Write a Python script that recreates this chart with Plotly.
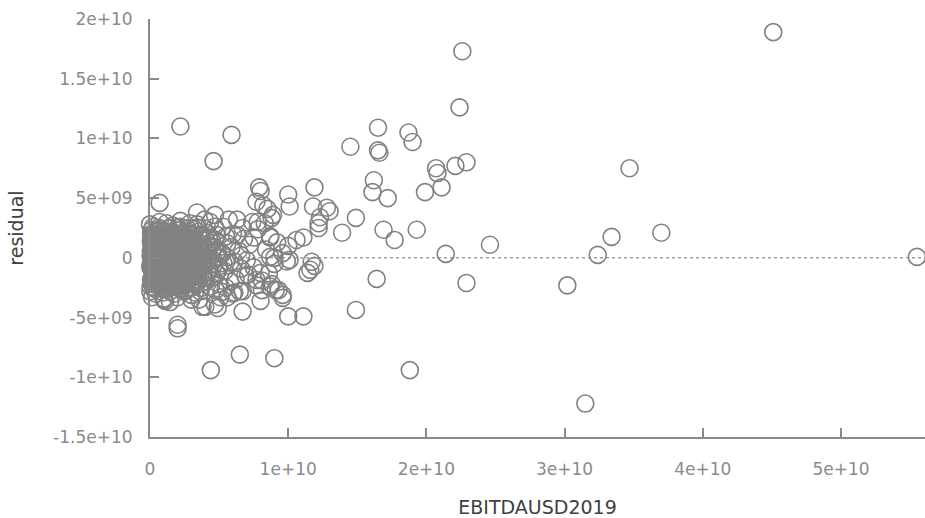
import plotly.graph_objects as go

# values in units of 1e9
core_x = [0.05,0.1,0.15,0.2,0.08,0.3,0.25,0.4,0.12,0.35,0.5,0.45,0.02,0.22,0.55,0.6,0.18,0.38,0.28,0.48,0.06,0.33,0.58,0.15,0.42,
          0.7,0.8,0.9,1.0,1.1,1.2,1.3,1.4,0.75,0.95,1.05,1.15,1.25,1.35,1.45,0.65,0.85,1.0,1.2,1.4,0.9,1.1,1.3,0.7,1.0,1.2,1.45,0.8,1.5,0.6,
          1.6,1.7,1.8,1.9,2.0,2.1,2.2,2.3,2.4,2.5,1.65,1.75,1.85,1.95,2.05,2.15,2.25,2.35,2.45,1.55,2.0,2.2,1.8,2.4,1.6,2.1,2.3,1.9,2.5,1.7,
          2.6,2.7,2.8,2.9,3.0,3.1,3.2,3.3,3.4,3.5,2.65,2.75,2.85,2.95,3.05,3.15,3.25,3.35,3.45,2.55,3.0,3.2,2.8,3.4,2.6,3.1,2.9,
          3.6,3.7,3.8,3.9,4.0,4.1,4.2,4.3,4.4,4.5,4.6,4.7,4.8,4.9,5.0,3.65,3.85,4.05,4.25,4.45,4.65,4.85,3.75,4.15,4.55,3.95,4.35,4.75,3.55,4.95,
          5.2,5.4,5.6,5.8,6.0,6.2,6.4,6.6,6.8,7.0,5.3,5.5,5.7,5.9,6.1,6.3,6.5,6.7,6.9,5.1,5.5,6.0,6.6,5.8,
          7.2,7.5,7.8,8.1,8.4,8.7,9.0,9.3,9.6,9.9,7.4,7.7,8.0,8.3,8.6,8.9,9.2,7.1,8.8,10.0,
          0.3,0.6,0.9,1.2,1.5,1.8,2.1,2.4,2.7,3.0,0.2,0.5,0.8,1.1,1.4,1.7,2.0,2.3,2.6,2.9,0.4,0.7,1.0,1.3,1.6,1.9,2.2,2.5,2.8,3.3,
          0.1,0.45,0.75,1.05,1.35,1.65,1.95,2.25,2.55,2.85,3.15,3.5,3.8,4.1,0.25,0.55,0.85,1.15,1.45,1.75,2.05,2.35,2.65,2.95,3.25,3.6,3.9,4.2]
core_y = [0.2,-0.5,1.1,-1.3,2.0,-2.2,0.6,-0.1,-1.8,1.6,-0.8,0.3,-2.8,2.6,-1.5,1.0,-0.2,-2.6,0.9,2.2,1.4,-1.0,0.1,-3.3,-3.0,
          -0.4,0.8,-1.6,1.9,-0.9,0.2,-2.4,1.3,2.4,-2.9,0.5,-0.1,2.1,-1.2,0.7,-2.0,1.6,-0.6,-1.9,-0.3,0.0,1.1,0.4,3.0,-3.5,2.9,-2.8,-1.1,1.8,0.5,
          -0.7,1.0,-1.8,0.3,2.3,-0.2,-2.6,1.5,-1.0,0.6,2.7,-3.0,1.9,-0.9,0.9,-1.5,0.0,2.0,-2.2,-0.1,-3.3,3.1,0.6,1.1,1.5,-2.0,-0.5,-2.4,-1.6,-1.3,
          0.2,-1.2,1.7,-0.4,0.9,-2.1,2.4,-0.8,0.4,-1.5,-2.7,2.2,-1.8,1.3,-0.1,1.9,-2.9,1.0,-0.3,1.0,-3.1,0.1,-0.2,2.8,-1.9,-1.1,2.9,
          0.7,-0.6,1.5,-1.7,0.2,2.1,-1.0,0.9,-2.4,1.4,-0.2,2.6,-1.3,0.5,-0.7,-2.8,2.5,-2.0,1.7,-0.5,0.9,1.9,0.0,-0.1,-1.6,3.2,3.0,-2.7,-3.5,-2.2,
          0.3,-1.1,1.2,-0.4,2.0,-1.8,0.6,-0.9,1.6,-0.2,2.6,-2.5,3.2,0.9,-0.3,1.9,-2.8,2.5,-1.5,-3.3,1.8,-3.0,0.2,-2.0,
          1.1,-0.8,2.4,-1.9,0.7,1.8,-0.5,-2.7,0.4,-0.3,3.0,-2.3,-3.6,2.9,-1.3,3.6,1.3,-1.4,-2.2,1.0,
          0.8,-1.4,1.7,-0.3,0.5,-2.3,1.2,-0.6,2.0,-1.7,-0.9,1.5,-2.1,0.3,2.5,-0.4,1.3,-1.2,0.7,-2.5,-1.9,0.1,2.2,-0.7,0.4,-1.0,2.6,-2.8,1.1,0.0,
          1.7,-1.1,0.6,-2.6,1.5,-0.5,2.5,-1.4,0.1,-0.8,1.2,-1.9,0.8,-0.4,-0.6,2.3,-1.5,1.4,-2.2,0.3,-2.4,0.9,-1.0,2.0,-1.2,1.8,-0.3,0.5]

dense_x = [0.22,0.93,1.58,2.31,3.04,3.68,0.48,1.17,1.92,2.63,3.27,4.02,0.12,0.33,1.04,1.71,2.38,3.12,3.79,4.41,
           0.17,0.84,1.52,2.19,2.93,3.61,4.28,4.97,0.41,1.13,1.83,2.47,3.22,3.88,4.63,5.31,0.07,0.72,1.41,2.12,
           2.79,3.48,4.23,4.88,5.58,0.36,1.02,1.69,2.43,3.09,3.83,4.49,5.18,0.11,0.79,1.53,2.21,2.91,3.63,4.32,
           0.46,1.21,1.88,2.62,3.31,4.04,4.71,0.23,0.91,1.63,2.28,3.02,3.72,0.62,1.32,2.03,2.69,3.41,0.57,1.26,
           1.97,2.67,3.36,0.63,1.36,2.04,2.76,3.44,4.13,0.74,1.44,2.16,2.83,3.57,4.27,0.66,1.33,2.07,2.77,3.46,
           4.16,0.77,1.47,2.14,2.86,3.53,0.03,0.13,0.27,0.09,0.19,0.04,0.31,0.14,0.26,0.37,0.52,0.68,0.88,1.08]
dense_y = [-2.48,-2.55,-2.42,-2.58,-2.46,-2.52,-2.03,-1.96,-2.07,-1.94,-2.05,-1.98,-2.1,-1.52,-1.46,-1.55,-1.48,-1.53,-1.44,-1.51,
           -1.02,-0.97,-1.05,-0.96,-1.03,-0.98,-1.04,-0.95,-0.52,-0.47,-0.55,-0.46,-0.53,-0.48,-0.54,-0.45,0.03,-0.04,0.05,-0.02,
           0.04,-0.05,0.02,-0.03,0.05,0.52,0.46,0.55,0.47,0.53,0.48,0.54,0.45,1.03,0.96,1.05,0.97,1.02,0.95,1.04,
           1.52,1.46,1.55,1.47,1.53,1.45,1.54,2.03,1.96,2.05,1.97,2.02,1.95,2.52,2.46,2.55,2.47,2.53,-2.27,-2.22,
           -2.28,-2.21,-2.26,-1.27,-1.22,-1.28,-1.23,-1.26,-1.21,-0.27,-0.22,-0.28,-0.23,-0.26,-0.21,0.77,0.72,0.78,0.73,0.76,
           0.71,1.77,1.72,1.78,1.73,1.76,-0.8,1.3,-1.7,2.3,0.3,-2.4,-1.1,0.9,1.8,-0.6,-0.3,0.2,-0.1,0.4]

solid_x = [0.08,0.29,0.51,0.73,0.96,1.18,1.39,1.62,1.84,2.06,2.27,2.49,2.71,2.94,3.16,3.38,
           0.19,0.41,0.62,0.85,1.07,1.28,1.51,1.73,1.95,2.17,2.38,2.61,2.82,3.05,3.27,
           0.04,0.26,0.47,0.69,0.92,1.14,1.35,1.57,1.79,2.02,2.24,2.45,2.67,2.89,3.12,3.33,
           0.15,0.37,0.58,0.81,1.03,1.24,1.46,1.68,1.91,2.13,2.34,2.56,2.78,3.01,3.22,
           0.06,0.28,0.49,0.71,0.94,1.16,1.37,1.59,1.81,2.04,2.26,2.47,2.69,2.91,3.14,
           0.17,0.39,0.6,0.83,1.05,1.26,1.48,1.7,1.93,2.15,2.36,2.58,2.8,3.03,
           0.1,0.32,0.53,0.76,0.98,1.19,1.41,1.64,1.86,2.08,2.29,2.52,2.74]
solid_y = [-1.82,-1.76,-1.85,-1.78,-1.81,-1.74,-1.86,-1.79,-1.83,-1.75,-1.84,-1.77,-1.8,-1.73,-1.87,-1.79,
           -1.21,-1.16,-1.24,-1.18,-1.22,-1.15,-1.25,-1.19,-1.23,-1.14,-1.2,-1.17,-1.26,-1.13,-1.21,
           -0.62,-0.57,-0.65,-0.59,-0.63,-0.56,-0.66,-0.6,-0.64,-0.55,-0.61,-0.58,-0.67,-0.54,-0.62,-0.59,
           -0.02,0.04,-0.05,0.01,-0.03,0.06,-0.06,0.02,-0.04,0.05,-0.01,0.03,-0.07,0.07,-0.02,
           0.58,0.63,0.55,0.61,0.57,0.64,0.54,0.6,0.56,0.65,0.59,0.62,0.53,0.66,0.58,
           1.18,1.23,1.15,1.21,1.17,1.24,1.14,1.2,1.16,1.25,1.19,1.22,1.13,1.26,
           1.78,1.83,1.75,1.81,1.77,1.84,1.74,1.8,1.76,1.85,1.79,1.82,1.73]

outlier_x = [45.1,22.6,22.4,2.2,5.9,16.5,18.7,19.0,14.5,16.5,16.6,4.6,22.9,22.1,20.7,20.8,34.7,16.2,21.1,7.9,
             8.0,16.1,19.9,11.9,17.2,10.0,10.1,0.7,8.2,8.5,11.8,12.8,13.0,12.2,12.2,11.1,10.6,14.9,13.9,16.9,
             17.7,19.3,24.6,21.4,33.4,37.0,32.4,55.5,11.7,11.9,11.6,11.4,10.1,16.4,22.9,30.2,14.9,31.5,18.8,9.0,
             6.5,4.4,6.7,10.0,11.1,2.0,2.0,3.8,4.9,9.6,9.1,5.2,6.7,8.1,7.7,8.0,8.7,9.0,8.7,7.5,
             7.8,8.8,7.7,12.3,3.4,4.7,6.3,0.0,8.7,9.6,4.7,4.0,1.0,1.45,1.1,3.0,5.6,6.1]
outlier_y = [18.9,17.3,12.6,11.0,10.3,10.9,10.5,9.7,9.3,9.0,8.8,8.1,8.0,7.7,7.5,7.1,7.5,6.5,5.9,5.9,
             5.6,5.5,5.5,5.9,5.0,5.3,4.3,4.6,4.4,4.1,4.3,4.2,3.9,2.9,2.5,1.7,1.5,3.35,2.1,2.35,
             1.5,2.35,1.1,0.33,1.76,2.1,0.25,0.08,-0.33,-0.67,-1.0,-1.26,-0.17,-1.76,-2.1,-2.3,-4.36,-12.2,-9.4,-8.4,
             -8.1,-9.4,-4.5,-4.9,-4.9,-5.6,-5.9,-4.1,-4.2,-3.35,-2.7,-2.85,-2.8,-2.7,-1.85,-1.26,0.08,0.0,1.7,1.7,
             3.0,3.35,4.7,3.4,3.8,3.6,3.2,2.8,-2.4,-3.1,-3.9,-4.1,-3.4,-3.7,-3.6,-3.5,-3.3,-2.9]

x_tick_vals = [0, 1e10, 2e10, 3e10, 4e10, 5e10]
x_tick_text = ["0", "1e+10", "2e+10", "3e+10", "4e+10", "5e+10"]
y_tick_vals = [2e10, 1.5e10, 1e10, 5e9, 0, -5e9, -1e10, -1.5e10]
y_tick_text = ["2e+10", "1.5e+10", "1e+10", "5e+09", "0", "-5e+09", "-1e+10", "-1.5e+10"]

xs = [v * 1e9 for v in core_x + dense_x + solid_x + outlier_x]
ys = [v * 1e9 for v in core_y + dense_y + solid_y + outlier_y]

fig = go.Figure()
fig.add_trace(go.Scatter(
    x=xs, y=ys, mode="markers", cliponaxis=False,
    marker=dict(symbol="circle-open", size=17, color="#828282", line=dict(width=1.6, color="#828282")),
    showlegend=False,
))

gray = "#8a8a8a"
fig.add_shape(type="line", xref="paper", yref="y", x0=0, x1=1, y0=0, y1=0,
              line=dict(color="#a0a0a0", width=1.5, dash="dot"), layer="below")

fig.update_layout(
    width=925, height=518,
    margin=dict(l=150, r=0, t=19, b=81, autoexpand=False),
    plot_bgcolor="white", paper_bgcolor="white",
    font=dict(family="DejaVu Sans", size=17, color=gray),
)
fig.update_xaxes(
    range=[0, 56.08e9], tickvals=x_tick_vals, ticktext=x_tick_text, automargin=False,
    showgrid=False, zeroline=False, showline=True, linecolor=gray, linewidth=2,
    ticks="inside", ticklen=9, tickwidth=1.5, tickcolor=gray,
    title=dict(text="EBITDAUSD2019", font=dict(family="DejaVu Sans", size=19, color="#404040"), standoff=27),
    ticklabelstandoff=16,
)
fig.update_yaxes(
    range=[-15e9, 20e9], tickvals=y_tick_vals, ticktext=y_tick_text, automargin=False,
    showgrid=False, zeroline=False, showline=True, linecolor=gray, linewidth=2,
    ticks="inside", ticklen=9, tickwidth=1.5, tickcolor=gray,
    title=dict(text="residual", font=dict(family="DejaVu Sans", size=19, color="#404040"), standoff=24),
    ticklabelstandoff=12,
)

fig.write_html("out.html", config={"displayModeBar": False},
               post_script="document.body.style.margin='0';document.body.style.overflow='hidden';")
